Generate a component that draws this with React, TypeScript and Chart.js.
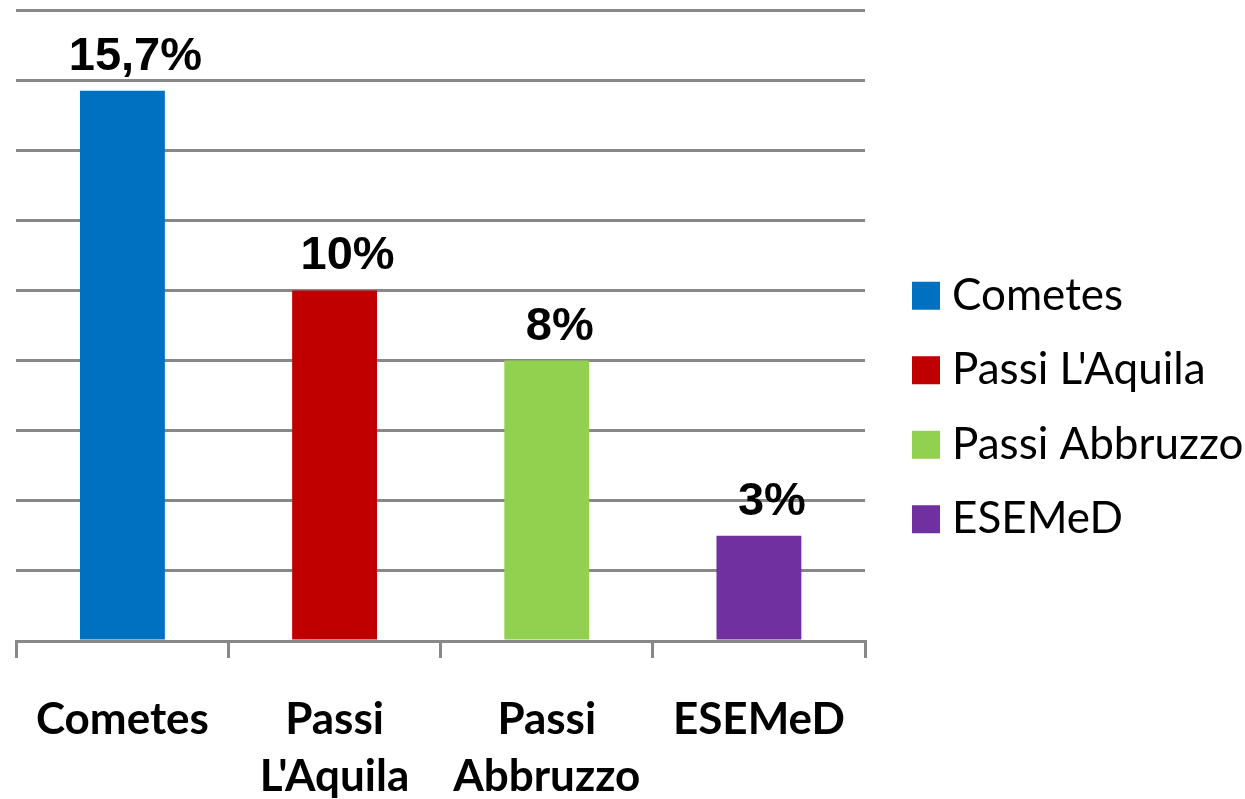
import React, { useEffect, useRef } from "react";
import { Chart, registerables } from "chart.js";

Chart.register(...registerables);

const categories: (string | string[])[] = ["Cometes", ["Passi", "L'Aquila"], ["Passi", "Abbruzzo"], "ESEMeD"];
const legendNames: string[] = ["Cometes", "Passi L'Aquila", "Passi Abbruzzo", "ESEMeD"];
const values: number[] = [15.7, 10, 8, 3];
const valueLabels: string[] = ["15,7%", "10%", "8%", "3%"];
const colors: string[] = ["#0070C0", "#C00000", "#92D050", "#7030A0"];

const valueLabelPlugin = {
  id: "valueLabels",
  afterDatasetsDraw(chart: any) {
    const ctx = chart.ctx;
    const meta = chart.getDatasetMeta(0);
    ctx.save();
    ctx.font = "bold 47px 'Liberation Sans', Arial, sans-serif";
    ctx.fillStyle = "#000";
    ctx.textAlign = "center";
    ctx.textBaseline = "alphabetic";
    meta.data.forEach((bar: any, i: number) => {
      ctx.fillText(valueLabels[i], bar.x + 13, bar.y - 21);
    });
    ctx.restore();
  },
};

const sideLegendPlugin = {
  id: "sideLegend",
  afterDraw(chart: any) {
    const ctx = chart.ctx;
    const area = chart.chartArea;
    const boxX = area.right + 47;
    const boxSize = 28;
    const step = 74.5;
    const midY = chart.height / 2 + 8;
    const firstY = midY - (step * (legendNames.length - 1)) / 2;
    ctx.save();
    ctx.font = "44px Lato, sans-serif";
    ctx.textAlign = "left";
    ctx.textBaseline = "middle";
    legendNames.forEach((name, i) => {
      const cy = firstY + i * step;
      ctx.fillStyle = colors[i];
      ctx.fillRect(boxX, cy - boxSize / 2, boxSize, boxSize);
      ctx.fillStyle = "#000";
      ctx.fillText(name, boxX + boxSize + 12, cy);
    });
    ctx.restore();
  },
};

export default function App() {
  const ref = useRef<HTMLCanvasElement | null>(null);
  useEffect(() => {
    document.body.style.margin = "0";
    const chart = new Chart(ref.current as HTMLCanvasElement, {
      type: "bar",
      data: {
        labels: categories as any,
        datasets: [
          {
            data: values,
            backgroundColor: colors,
            borderWidth: 0,
            categoryPercentage: 1,
            barPercentage: 0.4,
          },
        ],
      },
      options: {
        animation: false,
        responsive: false,
        maintainAspectRatio: false,
        layout: { padding: { left: 15, top: 10, right: 380, bottom: 0 } },
        plugins: {
          tooltip: { enabled: false },
          legend: { display: false },
        },
        scales: {
          x: {
            offset: true,
            afterFit(scale: any) {
              scale.height = 158;
            },
            grid: {
              offset: true,
              drawOnChartArea: false,
              drawTicks: true,
              tickLength: 17,
              color: "#888888",
              lineWidth: 3,
            },
            border: { display: true, color: "#888888", width: 3 },
            ticks: {
              font: { family: "Lato, sans-serif", size: 44, weight: "bold", lineHeight: 1.28 },
              color: "#000",
              padding: 34,
              maxRotation: 0,
              autoSkip: false,
            },
          },
          y: {
            min: 0,
            max: 18,
            ticks: { display: false, stepSize: 2 },
            border: { display: false },
            grid: { color: "#888888", lineWidth: 3, drawTicks: false },
          },
        },
      },
      plugins: [valueLabelPlugin, sideLegendPlugin],
    });
    return () => chart.destroy();
  }, []);
  return (
    <div style={{ width: 1245, height: 799 }}>
      <canvas ref={ref} width={1245} height={799} style={{ display: "block" }} />
    </div>
  );
}
